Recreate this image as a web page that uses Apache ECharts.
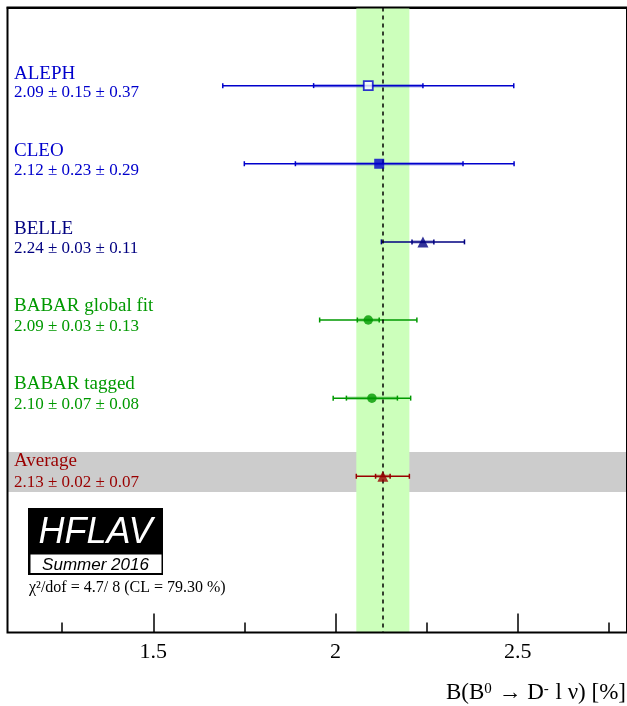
<!DOCTYPE html>
<html><head><meta charset="utf-8">
<script src="https://cdn.jsdelivr.net/npm/echarts@6/dist/echarts.min.js"></script>
<style>html,body{margin:0;padding:0;background:#fff}#c{width:627px;height:706px}</style>
</head><body><div id="c"></div>
<script>
// ---- data ----
const experiments = ['ALEPH', 'CLEO', 'BELLE', 'BABAR global fit', 'BABAR tagged', 'Average'];
const values      = [2.09, 2.12, 2.24, 2.09, 2.10, 2.13];
const statErrors  = [0.15, 0.23, 0.03, 0.03, 0.07, 0.02];
const systErrors  = [0.37, 0.29, 0.11, 0.13, 0.08, 0.07];
const majorTickValues = [1.5, 2, 2.5];
const minorTickValues = [1.25, 1.75, 2.25, 2.75];
const xRange = [1.1, 2.8];
const chi2Text = 'χ²/dof = 4.7/ 8 (CL = 79.30 %)';
const axisTitle = 'B(B{sup|0} → D{sup|-} l ν) [%]';
const logoTitle = 'HFLAV';
const logoSubtitle = 'Summer 2016';

// ---- styles ----
const rowStyles = [
  { color: '#0000cc', symbol: 'rect', open: true, size: 9 },
  { color: '#0000cc', symbol: 'rect', open: false, size: 10 },
  { color: '#000080', symbol: 'triangle', open: false, size: 11 },
  { color: '#009900', symbol: 'circle', open: false, size: 9.5 },
  { color: '#009900', symbol: 'circle', open: false, size: 9.5 },
  { color: '#990000', symbol: 'triangle', open: false, size: 11 }
];
const SERIF = '"Liberation Serif", "Times New Roman", serif';
const SANS = '"Liberation Sans", Arial, sans-serif';
const PLOT_H = 625;

const avgIdx = experiments.length - 1;
const avgTotal = Math.hypot(statErrors[avgIdx], systErrors[avgIdx]);
const rowOf = i => i + 1;
const fmt = v => v.toFixed(2);

const barData = values.map((v, i) => [v, statErrors[i], systErrors[i], rowOf(i)]);

function renderItem(params, api) {
  const i = params.dataIndex;
  const v = api.value(0), st = api.value(1), sy = api.value(2), row = api.value(3);
  const tot = Math.hypot(st, sy);
  const c = rowStyles[i].color;
  const pL = api.coord([v - tot, row]), pR = api.coord([v + tot, row]);
  const sL = api.coord([v - st, row]), sR = api.coord([v + st, row]);
  const y = pL[1];
  const cap = 2.5;
  const children = [
    { type: 'line', shape: { x1: sL[0], y1: y, x2: sR[0], y2: y }, style: { stroke: c, lineWidth: 3.5, opacity: 0.3 } },
    { type: 'line', shape: { x1: pL[0], y1: y, x2: pR[0], y2: y }, style: { stroke: c, lineWidth: 1.5 } }
  ];
  [pL[0], pR[0], sL[0], sR[0]].forEach(x => {
    children.push({ type: 'line', shape: { x1: x, y1: y - cap, x2: x, y2: y + cap }, style: { stroke: c, lineWidth: 1.5 } });
  });
  const x0 = api.coord([xRange[0], row])[0] + 6.5;
  children.push({ type: 'text', x: x0, y: y - 12 - 0.6 * i,
    style: { text: experiments[i], fill: c, font: '19px ' + SERIF, align: 'left', verticalAlign: 'middle' } });
  children.push({ type: 'text', x: x0, y: y + 6.5,
    style: { text: fmt(v) + ' ± ' + fmt(st) + ' ± ' + fmt(sy), fill: c, font: '17px ' + SERIF, align: 'left', verticalAlign: 'middle' } });
  return { type: 'group', children };
}

function tickAxis(tickValues, len) {
  return {
    type: 'value', min: xRange[0], max: xRange[1], position: 'top', offset: -PLOT_H,
    splitLine: { show: false }, axisLine: { show: false }, axisLabel: { show: false },
    axisTick: { show: true, inside: false, length: len, customValues: tickValues, lineStyle: { color: '#000', width: 1.5 } }
  };
}

const chart = echarts.init(document.getElementById('c'), null, { renderer: 'canvas' });
chart.setOption({
  animation: false,
  backgroundColor: '#fff',
  grid: { left: 7.5, top: 7.5, width: 621, height: PLOT_H, show: true, borderColor: '#000', borderWidth: 2, backgroundColor: 'transparent', z: 10 },
  xAxis: [
    {
      type: 'value', min: xRange[0], max: xRange[1], position: 'bottom',
      splitLine: { show: false },
      axisLine: { show: true, lineStyle: { color: '#000', width: 2 } },
      axisTick: { show: false },
      axisLabel: { show: true, customValues: majorTickValues, margin: 9, color: '#000', fontSize: 22, fontFamily: SERIF }
    },
    tickAxis(minorTickValues, 10),
    tickAxis(majorTickValues, 19)
  ],
  yAxis: { type: 'value', min: 0, max: 8, inverse: true, show: false, splitLine: { show: false } },
  series: [
    {
      type: 'line', data: [], z: 1, silent: true,
      markArea: { silent: true, itemStyle: { color: '#cccccc' }, label: { show: false },
        data: [[{ xAxis: xRange[0], yAxis: rowOf(avgIdx) - 0.31 }, { xAxis: xRange[1], yAxis: rowOf(avgIdx) + 0.2 }]] }
    },
    {
      type: 'line', data: [], z: 2, silent: true,
      markArea: { silent: true, itemStyle: { color: '#ccffbb' }, label: { show: false },
        data: [[{ xAxis: values[avgIdx] - avgTotal }, { xAxis: values[avgIdx] + avgTotal }]] }
    },
    {
      type: 'line', data: [], z: 3, silent: true,
      markLine: { silent: true, symbol: ['none', 'none'], label: { show: false },
        lineStyle: { color: '#000', width: 1.5, type: [4, 4] },
        data: [{ xAxis: values[avgIdx] }] }
    },
    {
      type: 'custom', z: 4, silent: true, clip: false,
      renderItem, encode: { x: 0, y: 3 }, data: barData
    },
    {
      type: 'scatter', z: 5, silent: true,
      data: values.map((v, i) => ({
        value: [v, rowOf(i)],
        symbol: rowStyles[i].symbol,
        symbolSize: rowStyles[i].size,
        itemStyle: rowStyles[i].open
          ? { color: '#fff', borderColor: rowStyles[i].color, borderWidth: 1.8 }
          : { color: rowStyles[i].color }
      }))
    }
  ],
  graphic: [
    { type: 'rect', shape: { x: 28, y: 508, width: 135, height: 67 }, style: { fill: '#000' }, z: 20 },
    { type: 'rect', shape: { x: 30.5, y: 554.5, width: 131, height: 18.5 }, style: { fill: '#fff' }, z: 21 },
    { type: 'text', x: 95.5, y: 533, z: 22, style: { text: logoTitle, fill: '#fff', font: 'italic 36px ' + SANS, align: 'center', verticalAlign: 'middle' } },
    { type: 'text', x: 95.5, y: 565, z: 22, style: { text: logoSubtitle, fill: '#000', font: 'italic 17px ' + SANS, align: 'center', verticalAlign: 'middle' } },
    { type: 'text', x: 29, y: 588, z: 22, style: { text: chi2Text, fill: '#000', font: '16px ' + SERIF, align: 'left', verticalAlign: 'middle' } },
    { type: 'text', x: 626, y: 693, z: 22, style: {
        text: axisTitle, fill: '#000', font: '23px ' + SERIF, align: 'right', verticalAlign: 'middle',
        rich: { sup: { font: '15px ' + SERIF, fill: '#000', verticalAlign: 'top', padding: [0, 1, 0, 0] } } } }
  ]
});
</script>
</body></html>
